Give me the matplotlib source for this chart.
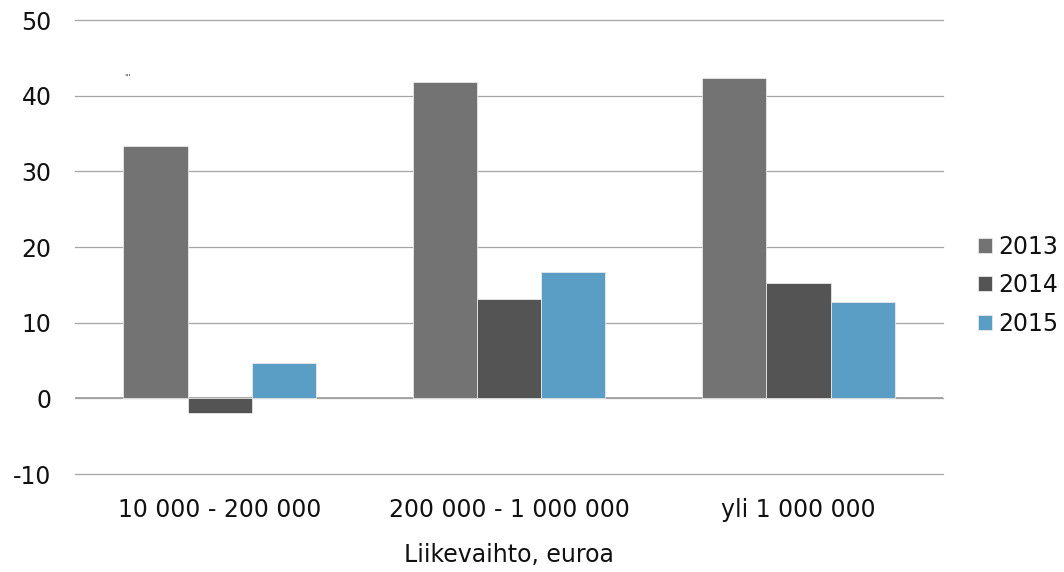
import numpy as np
import matplotlib
matplotlib.use("Agg")
import matplotlib.pyplot as plt

matplotlib.rcParams.update({
    "font.family": ["DejaVu Sans"],
    "font.size": 17,
    "axes.unicode_minus": False,
})

categories = ["10 000 - 200 000", "200 000 - 1 000 000", "yli 1 000 000"]
years = ["2013", "2014", "2015"]
v2013 = [33.4, 41.8, 42.4]
v2014 = [-1.9, 13.1, 15.3]
v2015 = [4.7, 16.7, 12.8]
series = [v2013, v2014, v2015]

COLORS = ["#737373", "#545454", "#5a9ec6"]

fig = plt.figure(figsize=(10.64, 5.72), dpi=100)
ax = fig.add_axes([0.0705, 0.171, 0.816, 0.794])

x = np.arange(len(categories))
w = 0.222
for i, (vals, col, lab) in enumerate(zip(series, COLORS, years)):
    ax.bar(x + (i - 1) * w, vals, width=w, color=col, edgecolor="#e8e8e8",
           linewidth=0.6, label=lab, zorder=3)

ax.set_xlim(-0.5, 2.5)
ax.set_ylim(-10, 50)
ax.set_yticks(range(-10, 51, 10))
ax.set_xticks(x)
ax.set_xticklabels(categories)
ax.grid(axis="y", color="#a6a6a6", linewidth=0.9, zorder=0)
for gl in ax.get_ygridlines():
    gl.set_clip_on(False)
ax.set_axisbelow(True)
ax.axhline(0, color="#a0a0a0", linewidth=1.3, zorder=2)
for s in ax.spines.values():
    s.set_visible(False)
ax.tick_params(axis="both", length=0, labelsize=17, colors="#111111")
ax.tick_params(axis="x", pad=17)
ax.tick_params(axis="y", pad=17)
ax.set_xlabel("Liikevaihto, euroa", fontsize=17, labelpad=15, color="#111111")

# tiny stray mark present in the original chart
ax.text(0.0565, 0.872, "'''", transform=ax.transAxes, fontsize=6,
        color="#555555", va="center")

leg = ax.legend(loc="center left", bbox_to_anchor=(1.021, 0.416), frameon=False,
                fontsize=17, handlelength=0.6, handleheight=0.6, handletextpad=0.25,
                labelspacing=0.62, borderaxespad=0.3)
for t in leg.get_texts():
    t.set_color("#111111")

fig.savefig("out.png", dpi=100)
